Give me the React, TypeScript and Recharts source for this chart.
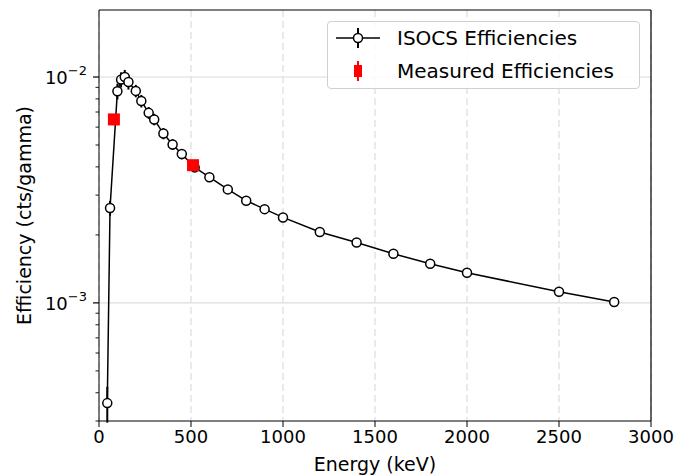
import {
  ComposedChart, Line, Scatter, XAxis, YAxis, CartesianGrid, ReferenceLine, ErrorBar,
} from 'recharts';

// ISOCS modelled efficiencies
const isocsEnergy = [45, 60, 100, 120, 140, 160, 200, 230, 270, 300, 350, 400, 450, 520, 600, 700, 800, 900, 1000, 1200, 1400, 1600, 1800, 2000, 2500, 2800];
const isocsEff = [3.6e-4, 2.63e-3, 8.65e-3, 9.74e-3, 1.0e-2, 9.5e-3, 8.68e-3, 7.83e-3, 6.94e-3, 6.49e-3, 5.62e-3, 5.03e-3, 4.56e-3, 3.98e-3, 3.6e-3, 3.18e-3, 2.835e-3, 2.6e-3, 2.39e-3, 2.06e-3, 1.85e-3, 1.65e-3, 1.49e-3, 1.36e-3, 1.12e-3, 1.01e-3];
const isocsErr = [0.65e-4, 0.2e-3, 0.7e-3, 0.75e-3, 0.75e-3, 0.7e-3, 0.55e-3, 0.5e-3, 0.42e-3, 0.38e-3, 0.32e-3, 0.28e-3, 0.24e-3, 0.15e-3, 0.12e-3, 0.1e-3, 0.08e-3, 0.07e-3, 0.06e-3, 0.05e-3, 0.045e-3, 0.04e-3, 0.035e-3, 0.03e-3, 0.025e-3, 0.022e-3];

// measured source lines (Ba-133 81 keV, annihilation 511 keV)
const measEnergy = [81, 511];
const measEff = [6.49e-3, 4.07e-3];
const measErr = [0.15e-3, 0.1e-3];

const xTicks = [0, 500, 1000, 1500, 2000, 2500, 3000];
const yTicks = [3e-4, 4e-4, 5e-4, 6e-4, 7e-4, 8e-4, 9e-4, 1e-3, 2e-3, 3e-3, 4e-3, 5e-3, 6e-3, 7e-3, 8e-3, 9e-3, 1e-2];
const yDomain = [3e-4, 0.0198];

const isocs = isocsEnergy.map((e, i) => ({ energy: e, eff: isocsEff[i], err: isocsErr[i] }));
const measured = measEnergy.map((e, i) => ({ energy: e, eff: measEff[i], err: measErr[i] }));

const FONT = 'DejaVu Sans, sans-serif';
const PLOT_LEFT = 99;

const LogTick = ({ y, payload }: any) => {
  const v = payload.value;
  const exp = Math.log10(v);
  const major = Math.abs(exp - Math.round(exp)) < 1e-6;
  return (
    <g>
      <line x1={PLOT_LEFT - (major ? 6 : 3.5)} x2={PLOT_LEFT} y1={y} y2={y} stroke="#000" strokeWidth={major ? 1.2 : 0.9} />
      {major && (
        <text x={PLOT_LEFT - 12} y={y + 7} textAnchor="end" fontFamily={FONT} fontSize={18} fill="#000">
          10<tspan dy={-9} fontSize={13}>{'\u2212' + Math.abs(Math.round(exp))}</tspan>
        </text>
      )}
    </g>
  );
};

const LegendBox = () => (
  <div
    style={{
      position: 'absolute', left: 327, top: 21, width: 311, height: 66,
      border: '1px solid #d0d0d0', borderRadius: 4,
      background: 'rgba(255,255,255,0.85)', fontFamily: FONT, fontSize: 20, color: '#000',
    }}
  >
    <svg width={60} height={66} style={{ position: 'absolute', left: 0, top: 0 }}>
      <line x1={8} x2={52} y1={16} y2={16} stroke="#000" strokeWidth={1.5} />
      <line x1={30} x2={30} y1={6} y2={26} stroke="#000" strokeWidth={2} />
      <circle cx={30} cy={16} r={4.5} fill="#fff" stroke="#000" strokeWidth={1.5} />
      <line x1={30} x2={30} y1={39} y2={59} stroke="red" strokeWidth={2} />
      <rect x={26} y={43} width={8} height={12} fill="red" />
    </svg>
    <div style={{ position: 'absolute', left: 69, top: 3, lineHeight: '26px' }}>ISOCS Efficiencies</div>
    <div style={{ position: 'absolute', left: 69, top: 36, lineHeight: '26px' }}>Measured Efficiencies</div>
  </div>
);

export default function App() {
  return (
    <div style={{ position: 'absolute', left: 0, top: 0, width: 679, height: 476, background: '#fff' }}>
      <ComposedChart width={679} height={476} margin={{ top: 10, right: 28, bottom: 0, left: 0 }}>
        <CartesianGrid horizontal={false} stroke="#dcdcdc" strokeDasharray="7 4" strokeWidth={1.2} />
        <ReferenceLine y={1e-2} stroke="#dcdcdc" strokeWidth={1.2} />
        <ReferenceLine y={1e-3} stroke="#dcdcdc" strokeWidth={1.2} />
        <ReferenceLine y={yDomain[1]} stroke="#000" strokeWidth={1.2} />
        <ReferenceLine x={3000} stroke="#000" strokeWidth={1.2} />
        <XAxis
          type="number"
          dataKey="energy"
          domain={[0, 3000]}
          ticks={xTicks}
          height={55}
          allowDataOverflow
          stroke="#000"
          tickSize={6}
          tickMargin={3}
          tick={{ fontFamily: FONT, fontSize: 18, fill: '#000' }}
          label={{ value: 'Energy (keV)', position: 'insideBottom', offset: 5, fontFamily: FONT, fontSize: 19, fill: '#000' }}
        />
        <YAxis
          type="number"
          scale="log"
          domain={yDomain}
          ticks={yTicks}
          allowDataOverflow
          width={PLOT_LEFT}
          stroke="#000"
          tickLine={false}
          tick={<LogTick />}
          interval={0}
          label={{ value: 'Efficiency (cts/gamma)', angle: -90, position: 'insideLeft', offset: 24, fontFamily: FONT, fontSize: 19, fill: '#000', style: { textAnchor: 'middle' } }}
        />
        <Line
          data={isocs}
          dataKey="eff"
          stroke="#000"
          strokeWidth={1.5}
          dot={{ r: 4.5, fill: '#fff', stroke: '#000', strokeWidth: 1.5 }}
          isAnimationActive={false}
          legendType="none"
        >
          <ErrorBar dataKey="err" width={0} stroke="#000" strokeWidth={2} direction="y" isAnimationActive={false} />
        </Line>
        <Scatter
          data={measured}
          dataKey="eff"
          fill="red"
          isAnimationActive={false}
          shape={(p: any) => <rect x={p.cx - 6} y={p.cy - 6} width={12} height={12} fill="red" />}
        >
          <ErrorBar dataKey="err" width={0} stroke="red" strokeWidth={2} direction="y" isAnimationActive={false} />
        </Scatter>
      </ComposedChart>
      <LegendBox />
    </div>
  );
}
